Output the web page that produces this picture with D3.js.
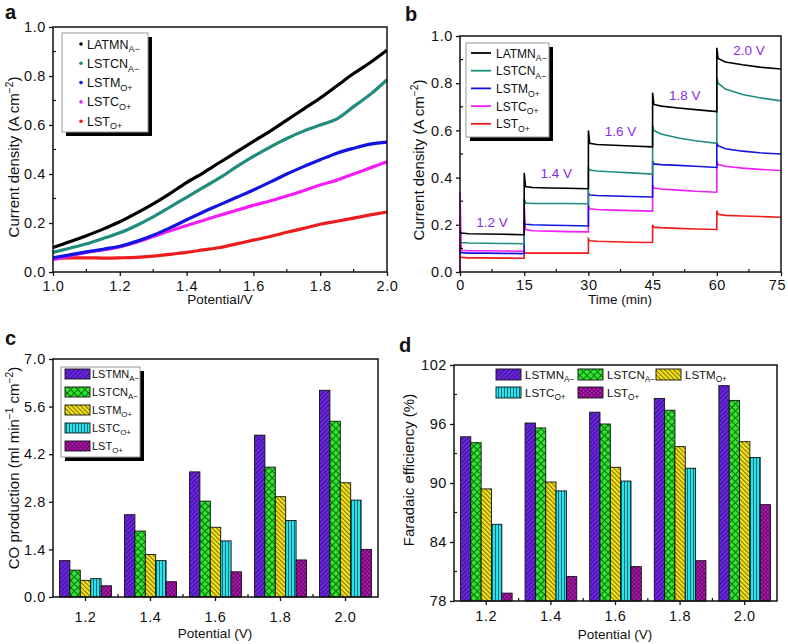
<!DOCTYPE html>
<html><head><meta charset="utf-8">
<script src="https://cdn.jsdelivr.net/npm/d3@7"></script>
<style>body{margin:0;background:#fff} svg{display:block} text{font-family:"Liberation Sans",Arial,Helvetica,sans-serif;fill:#111}</style>
</head><body><svg id="chart" width="788" height="644"></svg>
<script>
// ---------------- DATA ----------------
const aNames = ["LATMN","LSTCN","LSTM","LSTC","LST"];
const barNames = ["LSTMN","LSTCN","LSTM","LSTC","LST"];
const subs = ["A\u2212","A\u2212","O+","O+","O+"];
const lineColors = ["#000000","#1f8c7c","#1414e0","#f41ef4","#ee1c1c"];

// panel a: potential sweep
const aPotential = [1.0,1.05,1.1,1.15,1.2,1.25,1.3,1.35,1.4,1.45,1.5,1.55,1.6,1.65,1.7,1.75,1.8,1.85,1.9,1.95,2.0];
const aLATMN = [0.10,0.123,0.148,0.175,0.205,0.24,0.278,0.32,0.365,0.405,0.448,0.49,0.533,0.575,0.62,0.665,0.71,0.76,0.81,0.855,0.905];
const aLSTCN = [0.08,0.097,0.115,0.137,0.16,0.19,0.225,0.265,0.305,0.345,0.385,0.43,0.472,0.51,0.545,0.575,0.60,0.625,0.675,0.725,0.785];
const aLSTM  = [0.058,0.07,0.082,0.093,0.105,0.125,0.15,0.18,0.213,0.245,0.275,0.305,0.335,0.367,0.40,0.43,0.458,0.485,0.505,0.522,0.53];
const aLSTC  = [0.05,0.065,0.08,0.09,0.102,0.122,0.145,0.168,0.19,0.21,0.232,0.252,0.272,0.29,0.31,0.332,0.355,0.375,0.40,0.425,0.45];
const aLST   = [0.055,0.058,0.058,0.057,0.058,0.06,0.065,0.072,0.08,0.09,0.10,0.115,0.13,0.145,0.162,0.178,0.195,0.207,0.22,0.233,0.245];
const aTicksX = [1.0,1.2,1.4,1.6,1.8,2.0];
const aTicksY = [0.0,0.2,0.4,0.6,0.8,1.0];

// panel b: chronoamperometry, 15 min per step
const bSegStart = [0,15,30,45,60];
const bOffsets = [0,0.3,2,6,10,15];
const bStartVal = [0.17,0.13,0.08,0.0,0.06];
const bLATMN = [[0.17,0.165,0.162,0.161,0.16,0.158],[0.42,0.362,0.358,0.356,0.355,0.353],[0.60,0.545,0.54,0.537,0.534,0.53],[0.76,0.71,0.703,0.695,0.688,0.68],[0.95,0.905,0.89,0.878,0.868,0.86]];
const bLSTCN = [[0.13,0.125,0.123,0.122,0.121,0.12],[0.31,0.292,0.29,0.29,0.29,0.289],[0.44,0.432,0.428,0.424,0.42,0.415],[0.62,0.60,0.585,0.568,0.556,0.545],[0.825,0.80,0.775,0.752,0.738,0.725]];
const bLSTM  = [[0.09,0.082,0.08,0.08,0.079,0.078],[0.21,0.202,0.2,0.198,0.197,0.195],[0.335,0.326,0.324,0.322,0.32,0.318],[0.47,0.458,0.455,0.452,0.448,0.443],[0.55,0.535,0.522,0.512,0.505,0.50]];
const bLSTC  = [[0.34,0.092,0.09,0.09,0.089,0.088],[0.28,0.18,0.175,0.173,0.171,0.17],[0.28,0.268,0.265,0.262,0.26,0.258],[0.37,0.356,0.352,0.347,0.342,0.338],[0.47,0.455,0.448,0.44,0.435,0.43]];
const bLST   = [[0.065,0.062,0.06,0.06,0.059,0.058],[0.085,0.08,0.08,0.08,0.08,0.08],[0.14,0.132,0.13,0.128,0.126,0.125],[0.20,0.19,0.188,0.185,0.182,0.18],[0.26,0.245,0.24,0.237,0.235,0.232]];
const bVoltLabels = ["1.2 V","1.4 V","1.6 V","1.8 V","2.0 V"];
const bVoltLabelY = [0.19,0.40,0.575,0.73,0.92];
const bTicksX = [0,15,30,45,60,75];
const bTicksY = [0.0,0.2,0.4,0.6,0.8,1.0];

// panel c: CO production
const potentials = ["1.2","1.4","1.6","1.8","2.0"];
const cLSTMN = [1.07,2.42,3.68,4.76,6.08];
const cLSTCN = [0.79,1.94,2.82,3.82,5.17];
const cLSTM  = [0.49,1.25,2.05,2.95,3.36];
const cLSTC  = [0.54,1.07,1.65,2.25,2.85];
const cLST   = [0.33,0.45,0.74,1.09,1.40];
const cTicksY = [0.0,1.4,2.8,4.2,5.6,7.0];

// panel d: Faradaic efficiency
const dLSTMN = [94.7,96.1,97.2,98.6,99.9];
const dLSTCN = [94.1,95.6,96.0,97.4,98.4];
const dLSTM  = [89.4,90.1,91.6,93.7,94.2];
const dLSTC  = [85.8,89.2,90.2,91.5,92.6];
const dLST   = [78.8,80.5,81.5,82.1,87.8];
const dTicksY = [78,84,90,96,102];

// ---------------- DRAWING ----------------
const svg = d3.select("#chart");
const XFS = 13.5;   // x-axis titles
const YFS = 15;     // y-axis titles
const TFS = 14.5;   // tick labels

// patterns
const defs = svg.append("defs");
function hatch(id, bg, fg, angle, size, sw){
  const p = defs.append("pattern").attr("id",id).attr("patternUnits","userSpaceOnUse")
    .attr("width",size).attr("height",size).attr("patternTransform",`rotate(${angle})`);
  p.append("rect").attr("width",size).attr("height",size).attr("fill",bg);
  p.append("line").attr("x1",0.5).attr("y1",0).attr("x2",0.5).attr("y2",size).attr("stroke",fg).attr("stroke-width",sw);
}
function cross(id, bg, fg, size, sw){
  const p = defs.append("pattern").attr("id",id).attr("patternUnits","userSpaceOnUse")
    .attr("width",size).attr("height",size).attr("patternTransform","rotate(45)");
  p.append("rect").attr("width",size).attr("height",size).attr("fill",bg);
  p.append("line").attr("x1",0.5).attr("y1",0).attr("x2",0.5).attr("y2",size).attr("stroke",fg).attr("stroke-width",sw);
  p.append("line").attr("x1",0).attr("y1",0.5).attr("x2",size).attr("y2",0.5).attr("stroke",fg).attr("stroke-width",sw);
}
hatch("pPurple","#6a26dc","#3a0f96",45,3.2,1.0);
cross("pGreen","#2ee62e","#106a10",5,1.0);
hatch("pYellow","#f5e41c","#7a6a00",-45,3.2,1.0);
hatch("pCyan","#26e4ee","#0e6a76",0,3,1.0);
cross("pMag","#b41eb4","#5e005e",3,0.8);
const barFills = ["url(#pPurple)","url(#pGreen)","url(#pYellow)","url(#pCyan)","url(#pMag)"];

function label(sel, x, y, name, sub, fs, anchor){
  const t = sel.append("text").attr("x",x).attr("y",y).attr("font-size",fs).attr("text-anchor",anchor||"start");
  t.append("tspan").text(name);
  t.append("tspan").attr("dy",fs*0.3).attr("font-size",fs*0.72).text(sub);
  return t;
}
function frame(x0,y0,x1,y1){
  svg.append("rect").attr("x",x0).attr("y",y0).attr("width",x1-x0).attr("height",y1-y0)
    .attr("fill","none").attr("stroke","#111").attr("stroke-width",1.5);
}
function styleAxis(g){
  g.select(".domain").remove();
  g.selectAll(".tick line").attr("stroke","#111").attr("stroke-width",1.3);
  g.selectAll(".tick text").attr("font-size",TFS).attr("letter-spacing",0.6).attr("fill","#111")
    .attr("font-family",'"Liberation Sans",Arial,sans-serif');
}
function minorX(scale, vals, y, len){
  svg.append("g").selectAll("line").data(vals).join("line")
    .attr("x1",d=>scale(d)).attr("x2",d=>scale(d)).attr("y1",y).attr("y2",y-len)
    .attr("stroke","#111").attr("stroke-width",1.2);
}
function minorY(scale, vals, x, len){
  svg.append("g").selectAll("line").data(vals).join("line")
    .attr("y1",d=>scale(d)).attr("y2",d=>scale(d)).attr("x1",x).attr("x2",x+len)
    .attr("stroke","#111").attr("stroke-width",1.2);
}
function yTitle(x, y, parts){
  const t = svg.append("text").attr("transform",`translate(${x},${y}) rotate(-90)`).attr("text-anchor","middle").attr("font-size",YFS);
  parts.forEach(p=>{
    const s = t.append("tspan").text(p[0]);
    if(p[1]==="sup") s.attr("dy",-6).attr("font-size",YFS*0.68);
    if(p[1]==="back") s.attr("dy",6);
  });
}
function xTitle(x, y, txt){
  svg.append("text").attr("x",x).attr("y",y).attr("text-anchor","middle").attr("font-size",XFS).text(txt);
}
function panelLetter(x,y,l){
  svg.append("text").attr("x",x).attr("y",y).attr("font-size",20).attr("font-weight","bold").text(l);
}
function legendBox(x,y,w,h){
  svg.append("rect").attr("x",x+4).attr("y",y+4).attr("width",w).attr("height",h).attr("fill","#000");
  svg.append("rect").attr("x",x).attr("y",y).attr("width",w).attr("height",h).attr("fill","#fff").attr("stroke","#999").attr("stroke-width",1);
}

// ===== Panel a =====
{
  const x = d3.scaleLinear().domain([1,2]).range([53,387]);
  const y = d3.scaleLinear().domain([0,1]).range([272,27]);
  const series = [aLATMN,aLSTCN,aLSTM,aLSTC,aLST];
  const line = d3.line().x((d,i)=>x(aPotential[i])).y(d=>y(d)).curve(d3.curveMonotoneX);
  series.slice().reverse().forEach((s,k)=>{
    const i = series.length-1-k;
    svg.append("path").datum(s).attr("d",line).attr("fill","none").attr("stroke",lineColors[i]).attr("stroke-width",3.2);
  });
  frame(53,27,387,272);
  const gx = svg.append("g").attr("transform","translate(0,272)")
    .call(d3.axisBottom(x).tickValues(aTicksX).tickFormat(d3.format(".1f")).tickSize(4).tickPadding(5));
  styleAxis(gx);
  const gy = svg.append("g").attr("transform","translate(53,0)")
    .call(d3.axisLeft(y).tickValues(aTicksY).tickFormat(d3.format(".1f")).tickSize(4).tickPadding(3));
  styleAxis(gy);
  minorX(x,[1.1,1.3,1.5,1.7,1.9],272,3);
  minorY(y,[0.1,0.3,0.5,0.7,0.9],53,3);
  xTitle(220,304,"Potential/V");
  yTitle(19,157,[["Current density (A cm"],["\u22122","sup"],[")","back"]]);
  legendBox(62,33,86,99);
  aNames.forEach((n,i)=>{
    const yy = 44+i*19.3;
    svg.append("circle").attr("cx",81).attr("cy",yy).attr("r",1.8).attr("fill",lineColors[i]);
    label(svg,87,yy+4.5,n,subs[i],12.5);
  });
  panelLetter(5,19,"a");
}

// ===== Panel b =====
{
  const x = d3.scaleLinear().domain([0,75]).range([460,781]);
  const y = d3.scaleLinear().domain([0,1]).range([272,36]);
  const series = [bLATMN,bLSTCN,bLSTM,bLSTC,bLST];
  const line = d3.line().x(d=>x(d[0])).y(d=>y(d[1]));
  series.slice().reverse().forEach((s,k)=>{
    const i = series.length-1-k;
    const pts = [[0,bStartVal[i]]];
    s.forEach((seg,j)=>seg.forEach((v,m)=>pts.push([bSegStart[j]+bOffsets[m],v])));
    svg.append("path").datum(pts).attr("d",line).attr("fill","none").attr("stroke",lineColors[i]).attr("stroke-width",1.6);
  });
  bVoltLabels.forEach((t,j)=>{
    svg.append("text").attr("x",x(bSegStart[j]+7.5)).attr("y",y(bVoltLabelY[j])).attr("text-anchor","middle")
      .attr("font-size",13.5).style("fill","#8a2be2").text(t);
  });
  frame(460,36,781,272);
  const gx = svg.append("g").attr("transform","translate(0,272)")
    .call(d3.axisBottom(x).tickValues(bTicksX).tickFormat(d3.format("d")).tickSize(4).tickPadding(4));
  styleAxis(gx);
  gx.selectAll(".tick text").filter(d=>d===75).attr("dx",-4);
  const gy = svg.append("g").attr("transform","translate(460,0)")
    .call(d3.axisLeft(y).tickValues(bTicksY).tickFormat(d3.format(".1f")).tickSize(4).tickPadding(3));
  styleAxis(gy);
  minorX(x,[7.5,22.5,37.5,52.5,67.5],272,3);
  minorY(y,[0.1,0.3,0.5,0.7,0.9],460,3);
  xTitle(620,304,"Time (min)");
  yTitle(424,160,[["Current density (A cm"],["\u22122","sup"],[")","back"]]);
  legendBox(466,43,83,94);
  aNames.forEach((n,i)=>{
    const yy = 53+i*17.7;
    svg.append("line").attr("x1",471).attr("x2",491).attr("y1",yy).attr("y2",yy).attr("stroke",lineColors[i]).attr("stroke-width",1.8);
    label(svg,496,yy+4.5,n,subs[i],12);
  });
  panelLetter(405,21,"b");
}

// bar helper
function barPanel(vals, x0, x1, yTop, yBot, dom, ticks, fmt, minorVals, pad){
  const x = d3.scaleBand().domain(potentials).range([x0,x1]).paddingInner(0.2).paddingOuter(0.1);
  const xs = d3.scaleBand().domain(d3.range(5)).range([0,x.bandwidth()]);
  const y = d3.scaleLinear().domain(dom).range([yBot,yTop]);
  vals.forEach((s,i)=>{
    svg.append("g").selectAll("rect").data(s).join("rect")
      .attr("x",(d,j)=>x(potentials[j])+xs(i)).attr("width",xs.bandwidth())
      .attr("y",d=>y(d)).attr("height",d=>yBot-y(d))
      .attr("fill",barFills[i]).attr("stroke","#111").attr("stroke-width",0.9);
  });
  frame(x0,yTop,x1,yBot);
  const gx = svg.append("g").attr("transform",`translate(0,${yBot})`)
    .call(d3.axisBottom(x).tickSize(4).tickPadding(pad));
  styleAxis(gx);
  const gy = svg.append("g").attr("transform",`translate(${x0},0)`)
    .call(d3.axisLeft(y).tickValues(ticks).tickFormat(fmt).tickSize(4).tickPadding(3));
  styleAxis(gy);
  const step = x.step();
  const bounds = potentials.slice(0,4).map(p=>x(p)+x.bandwidth()+step*0.1);
  svg.append("g").selectAll("line").data(bounds).join("line")
    .attr("x1",d=>d).attr("x2",d=>d).attr("y1",yBot).attr("y2",yBot-3).attr("stroke","#111").attr("stroke-width",1.2);
  if(minorVals) minorY(y,minorVals,x0,3);
  return {x,y};
}

// ===== Panel c =====
{
  barPanel([cLSTMN,cLSTCN,cLSTM,cLSTC,cLST],53,378,359,597,[0,7],cTicksY,d3.format(".1f"),null,11);
  xTitle(215,638,"Potential (V)");
  yTitle(19,468,[["CO production (ml min"],["\u22121","sup"],[" cm","back"],["\u22122","sup"],[")","back"]]);
  legendBox(61,367,79,90);
  barNames.forEach((n,i)=>{
    const yy = 369+i*18;
    svg.append("rect").attr("x",65).attr("y",yy).attr("width",25).attr("height",10).attr("fill",barFills[i]).attr("stroke","#111").attr("stroke-width",0.9);
    label(svg,92,yy+9,n,subs[i],11);
  });
  panelLetter(5,345,"c");
}

// ===== Panel d =====
{
  barPanel([dLSTMN,dLSTCN,dLSTM,dLSTC,dLST],454,777,365,601,[78,102],dTicksY,d3.format("d"),[81,87,93,99],6);
  xTitle(615,639,"Potential (V)");
  yTitle(414,470,[["Faradaic efficiency (%)"]]);
  const lx = [496,578,656,496,578];
  const ly = [369,369,369,387,387];
  barNames.forEach((n,i)=>{
    svg.append("rect").attr("x",lx[i]).attr("y",ly[i]).attr("width",25).attr("height",11).attr("fill",barFills[i]).attr("stroke","#111").attr("stroke-width",0.9);
    label(svg,lx[i]+29,ly[i]+10,n,subs[i],11.5);
  });
  panelLetter(399,352,"d");
}
</script></body></html>
